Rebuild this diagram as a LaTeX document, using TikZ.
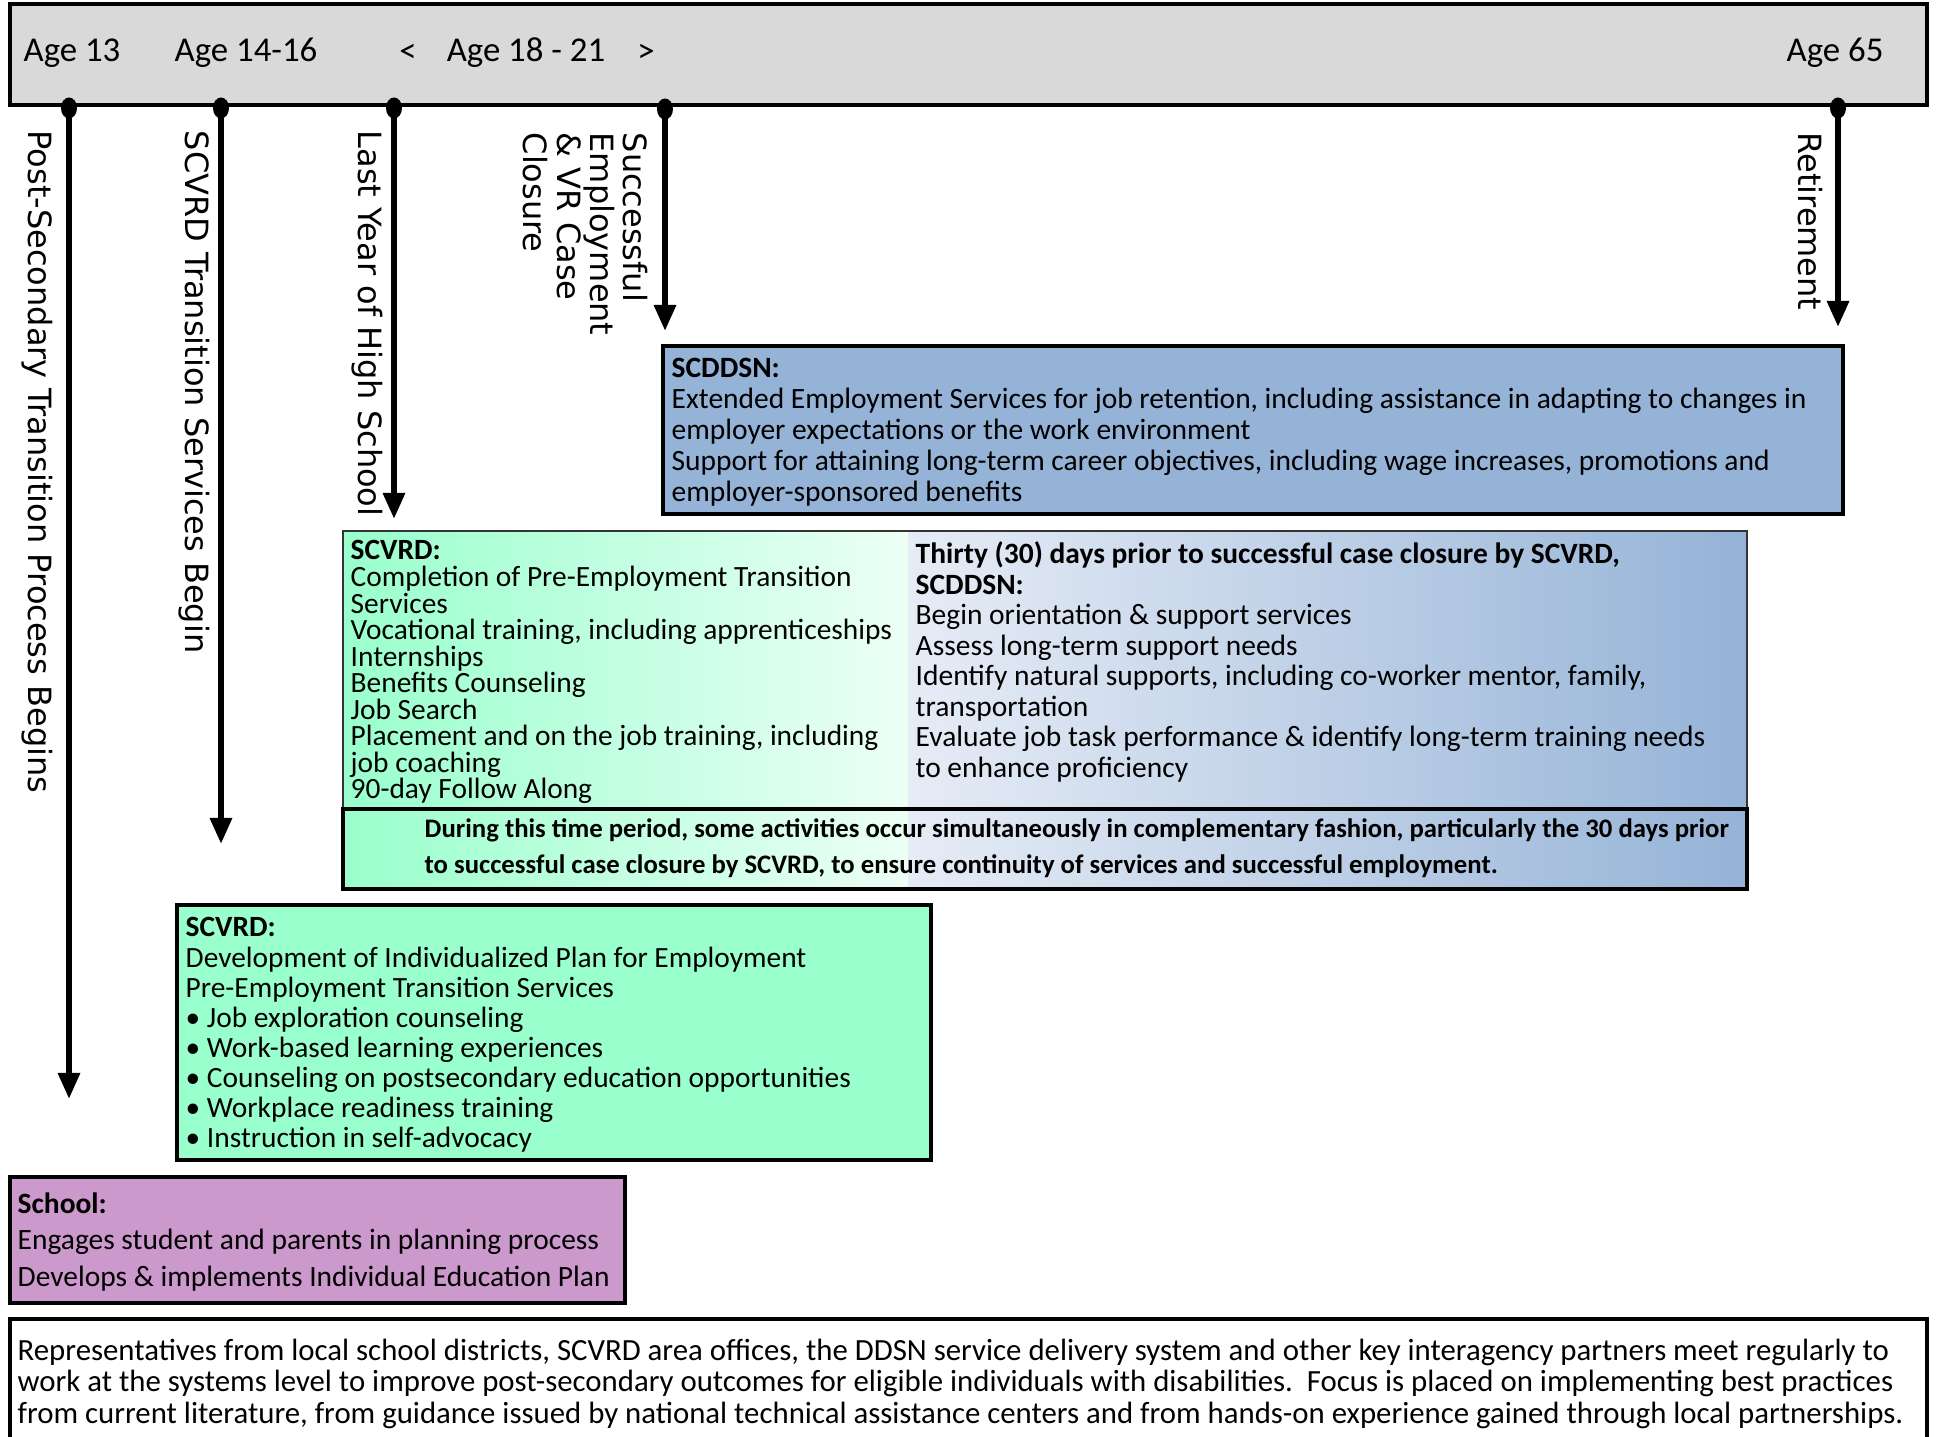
\documentclass[tikz,border=0pt]{standalone}
\usepackage{fontspec}
\setmainfont{Carlito}
\newfontfamily\vfont{DejaVu Sans}
\usetikzlibrary{arrows.meta,shapes.geometric}

\definecolor{bargray}{HTML}{D9D9D9}
\definecolor{ddsnblue}{HTML}{95B3D7}
\definecolor{vrgreen}{HTML}{99FFCC}
\definecolor{schoolpink}{HTML}{CC99CC}
\definecolor{palegreen}{HTML}{ECFFF6}
\definecolor{paleblue}{HTML}{E6ECF6}

\tikzset{
  timeline/.style={line width=1.7pt,-{Triangle[width=0.21cm,length=0.26cm]}},
  vlabel/.style={font=\vfont\fontsize{9.1}{9.5}\selectfont,rotate=-90,anchor=west,inner sep=0},
  boxtext/.style={anchor=north west,align=left,inner sep=0}
}

\begin{document}
\begin{tikzpicture}[x=0.01cm,y=-0.01cm]
   \useasboundingbox (0,0) rectangle (1937,1437);
   % age bar
   \draw[fill=bargray,line width=0.9pt] (10,4) rectangle (1927,105);
   \begin{scope}[every node/.style={font=\fontsize{9.9}{11}\selectfont,inner sep=0}]
    \node (age1) at (72,53) {Age 13};
    \node (age2) at (246,53) {Age 14-16};
    \node (lt) at (408,53) {<};
    \node (age3) at (526,53) {Age 18 - 21};
    \node (gt) at (646,53) {>};
    \node (age4) at (1835,53) {Age 65};
   \end{scope}
   % milestones
   \coordinate (e1) at (69,1099);
   \coordinate (e2) at (221,844);
   \coordinate (e3) at (394,519);
   \coordinate (e4) at (665,331);
   \coordinate (e5) at (1838,327);
   \begin{scope}[every node/.style={ellipse,fill=black,inner sep=0,minimum width=0.16cm,minimum height=0.21cm}]
    \node (p1) at (69,108) {};
    \node (p2) at (221,108) {};
    \node (p3) at (394,108) {};
    \node (p4) at (665,109) {};
    \node (p5) at (1838,108) {};
   \end{scope}
   \draw[timeline] (p1.center) -- (e1);
   \draw[timeline] (p2.center) -- (e2);
   \draw[timeline] (p3.center) -- (e3);
   \draw[timeline] (p4.center) -- (e4);
   \draw[timeline] (p5.center) -- (e5);
   \node[vlabel] (m1) at (37,130) {Post-Secondary Transition Process Begins};
   \node[vlabel] (m2) at (194,130) {SCVRD Transition Services Begin};
   \node[vlabel] (m3) at (367,130) {Last Year of High School};
   \node[vlabel,anchor=north west,align=left] (m4) at (649,132) {Successful\\Employment\\\& VR Case\\Closure};
   \node[vlabel] (m5) at (1810,132) {Retirement};
   % SCDDSN box
   \draw[fill=ddsnblue,line width=0.9pt] (663,346) rectangle (1843,514);
   \node[boxtext,font=\fontsize{8.38}{8.85}\selectfont] (ddsn) at (671,357) {\textbf{SCDDSN:}\\
     Extended Employment Services for job retention, including assistance in adapting to changes in\\
     employer expectations or the work environment\\
     Support for attaining long-term career objectives, including wage increases, promotions and\\
     employer-sponsored benefits};
   % overlap period
   \shade[left color=vrgreen,right color=palegreen] (343,531) rectangle (908,889);
   \shade[left color=paleblue,right color=ddsnblue] (908,531) rectangle (1747,889);
   \draw[black!80,line width=0.4pt] (343,531) rectangle (1747,809);
   \draw[line width=0.9pt] (343,809) rectangle (1747,889);
   \node[boxtext,font=\fontsize{8.36}{7.54}\selectfont] (vrlate) at (350,540) {\textbf{SCVRD:}\\
     Completion of Pre-Employment Transition\\
     Services\\
     Vocational training, including apprenticeships\\
     Internships\\
     Benefits Counseling\\
     Job Search\\
     Placement and on the job training, including\\
     job coaching\\
     90-day Follow Along};
   \node[boxtext,font=\fontsize{8.38}{8.68}\selectfont] (ddsnearly) at (915,541) {\textbf{Thirty (30) days prior to successful case closure by SCVRD,}\\
     \textbf{SCDDSN:}\\
     Begin orientation \& support services\\
     Assess long-term support needs\\
     Identify natural supports, including co-worker mentor, family,\\
     transportation\\
     Evaluate job task performance \& identify long-term training needs\\
     to enhance proficiency};
   \node[boxtext,font=\bfseries\fontsize{7.6}{10.2}\selectfont] (note) at (424,818) {During this time period, some activities occur simultaneously in complementary fashion, particularly the 30 days prior\\
     to successful case closure by SCVRD, to ensure continuity of services and successful employment.};
   % SCVRD early box
   \draw[fill=vrgreen,line width=0.9pt] (177,905) rectangle (931,1160);
   \node[boxtext,font=\fontsize{8.36}{8.54}\selectfont] (vrearly) at (185,917) {\textbf{SCVRD:}\\
     Development of Individualized Plan for Employment\\
     Pre-Employment Transition Services\\
     \textbullet\ Job exploration counseling\\
     \textbullet\ Work-based learning experiences\\
     \textbullet\ Counseling on postsecondary education opportunities\\
     \textbullet\ Workplace readiness training\\
     \textbullet\ Instruction in self-advocacy};
   % school box
   \draw[fill=schoolpink,line width=0.9pt] (10,1177) rectangle (625,1303);
   \node[boxtext,font=\fontsize{8.38}{10.36}\selectfont] (school) at (17,1192) {\textbf{School:}\\
     Engages student and parents in planning process\\
     Develops \& implements Individual Education Plan};
   % partners
   \draw[line width=0.9pt] (10,1319) rectangle (1927,1460);
   \node[boxtext,font=\fontsize{8.76}{8.96}\selectfont] (partners) at (17,1338) {Representatives from local school districts, SCVRD area offices, the DDSN service delivery system and other key interagency partners meet regularly to\\
     work at the systems level to improve post-secondary outcomes for eligible individuals with disabilities.\ \ Focus is placed on implementing best practices\\
     from current literature, from guidance issued by national technical assistance centers and from hands-on experience gained through local partnerships.};
\end{tikzpicture}
\end{document}
